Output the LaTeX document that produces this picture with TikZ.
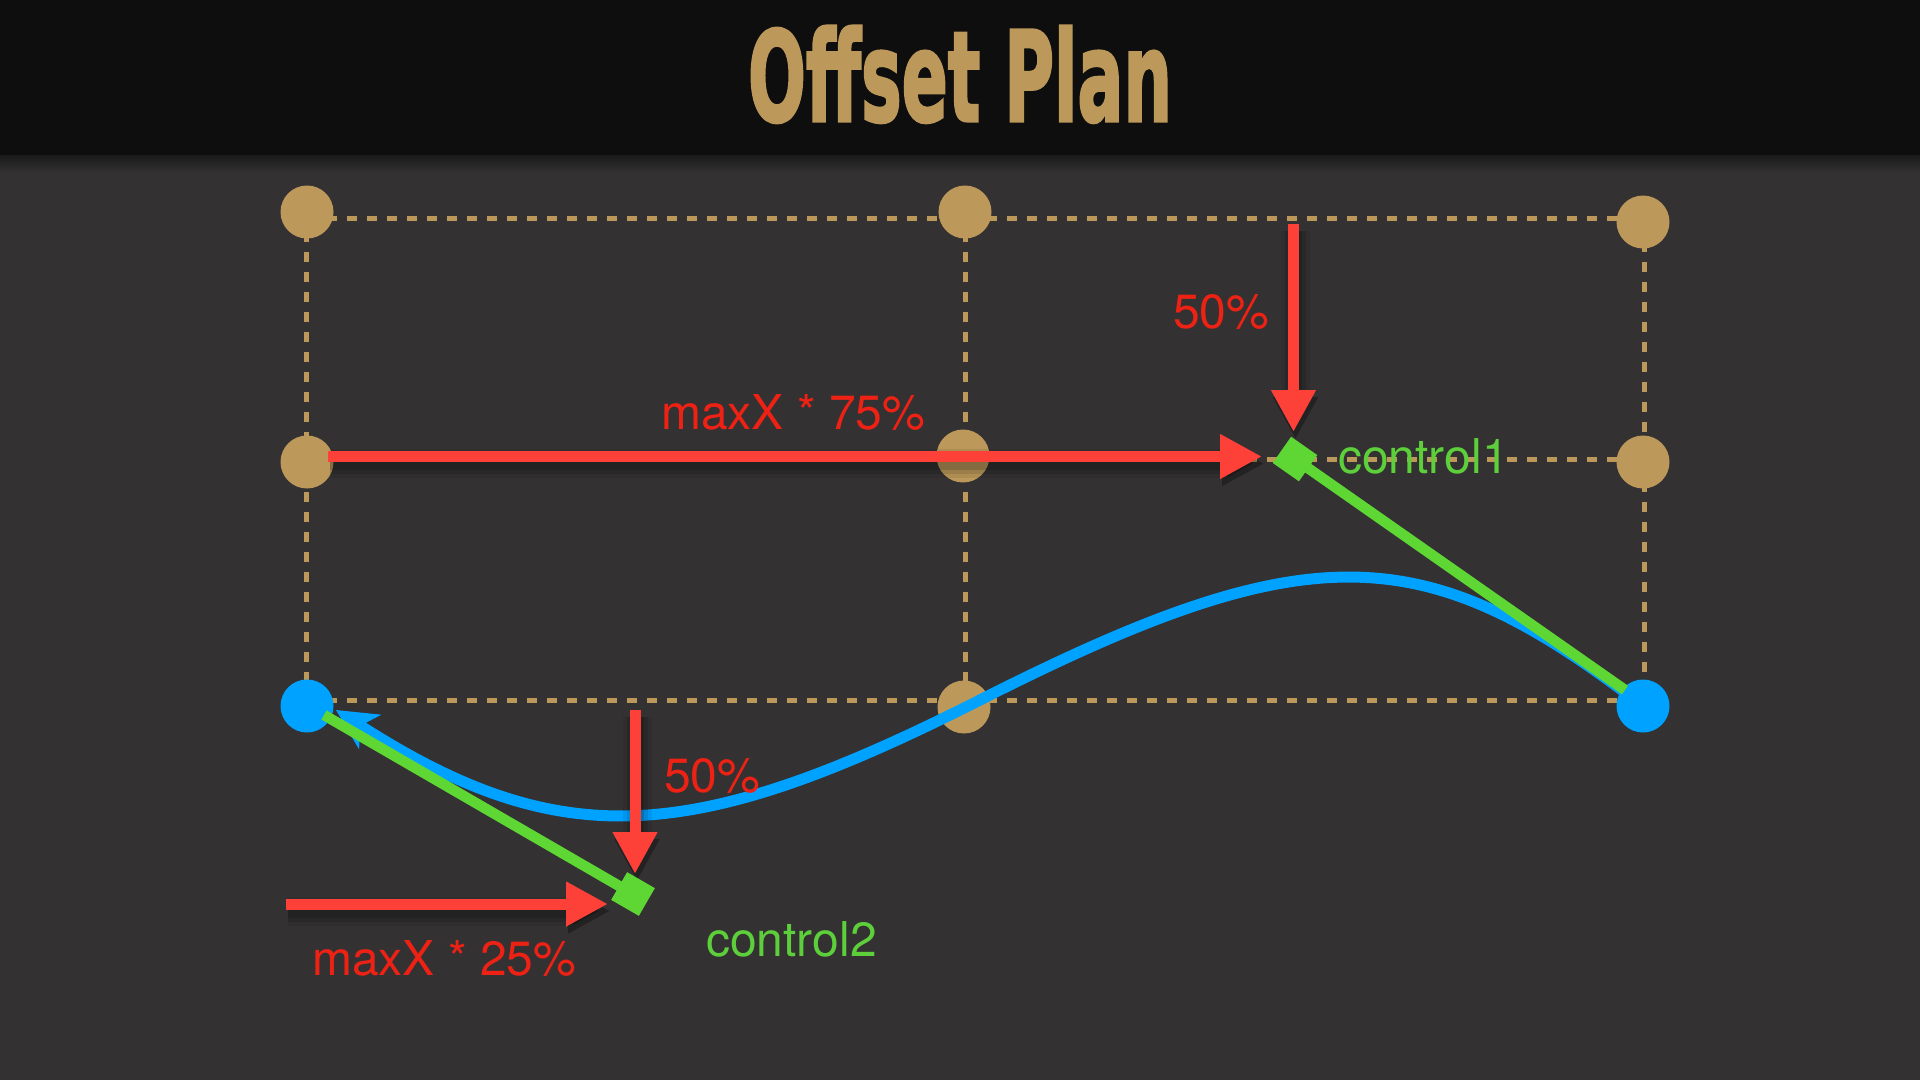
\documentclass[tikz,border=0pt]{standalone}
\usepackage{fontspec}
\setmainfont{TeX Gyre Heros}
\newfontfamily\titlefont{DejaVu Sans}[BoldFeatures={FakeBold=2.5}]
\usetikzlibrary{arrows.meta}
\definecolor{bg}{RGB}{51,49,50}
\definecolor{barcol}{RGB}{14,14,14}
\definecolor{gold}{RGB}{188,152,90}
\definecolor{dotblue}{RGB}{0,162,255}
\definecolor{linegreen}{RGB}{94,214,52}
\definecolor{textgreen}{RGB}{92,207,58}
\definecolor{arrowred}{RGB}{253,65,57}
\definecolor{textred}{RGB}{238,34,20}
\begin{document}
\begin{tikzpicture}[x=1pt,y=-1pt,
  golddot/.style={circle,fill=gold,inner sep=0pt,minimum size=53pt},
  bluedot/.style={circle,fill=dotblue,inner sep=0pt,minimum size=53pt},
  gridline/.style={draw=gold,line width=5pt,dash pattern=on 10pt off 10pt},
  bluecurve/.style={draw=dotblue,line width=11pt,-{Stealth[length=40pt,width=40pt,inset=11pt]}},
  greenline/.style={draw=linegreen,line width=10.5pt},
  ctrlsq/.style={rectangle,fill=linegreen,inner sep=0pt,minimum size=32pt},
  redarrow/.style={draw=arrowred,line width=11pt,-{Triangle[length=42pt,width=42pt]}},
  shadowpass/.style={draw=black,opacity=#1,-{Triangle[length=42pt,width=42pt]},
     transform canvas={shift={(2pt,-7pt)}}},
  redlabel/.style={text=textred,inner sep=0pt,anchor=base west,font=\fontsize{48}{56}\selectfont},
  greenlabel/.style={text=textgreen,inner sep=0pt,anchor=base west,font=\fontsize{48}{56}\selectfont},
  titletext/.style={text=gold,inner sep=0pt,anchor=south}]
\useasboundingbox (0,0) rectangle (1920,1080);
\fill[bg] (0,0) rectangle (1920,1080);
\shade[top color=black!90,bottom color=bg] (0,155) rectangle (1920,172);
\fill[barcol] (0,0) rectangle (1920,155);
\node[titletext] (title) at (960,123) {\resizebox{424pt}{95pt}{\titlefont\bfseries Offset Plan}};

% grid dashed lines
\coordinate (t1) at (307,218); \coordinate (t3) at (1643,218);
\coordinate (m1) at (307,459); \coordinate (m3) at (1643,459);
\coordinate (d1) at (307,700); \coordinate (d3) at (1643,700);
\coordinate (v1a) at (306,212); \coordinate (v1b) at (306,706);
\coordinate (v2a) at (965,212); \coordinate (v2b) at (965,706);
\coordinate (v3a) at (1644,222); \coordinate (v3b) at (1644,706);
\draw[gridline] (t1) -- (t3);
\draw[gridline] (m1) -- (m3);
\draw[gridline] (d1) -- (d3);
\draw[gridline] (v1a) -- (v1b);
\draw[gridline] (v2a) -- (v2b);
\draw[gridline] (v3a) -- (v3b);

% dots
\node[golddot] (g11) at (307,212) {};
\node[golddot] (g12) at (965,212) {};
\node[golddot] (g13) at (1643,222) {};
\node[golddot] (g21) at (307,462) {};
\node[golddot] (g22) at (963,456) {};
\node[golddot] (g23) at (1643,462) {};
\node[golddot] (g32) at (964,707) {};
\node[bluedot] (b1) at (307,706) {};
\node[bluedot] (b2) at (1643,706) {};

% blue curve
\coordinate (mid) at (980,700);
\coordinate (tipL) at (336,710);
\draw[bluecurve] (b2.center) .. controls (1424.75,538.3) and (1311.8,531.9) .. (mid)
   .. controls (693.7,845) and (561.4,855) .. (tipL);

% green tangent lines
\coordinate (c1) at (1295,459);
\coordinate (c2) at (633,894);
\coordinate (gr) at (1625,690);
\coordinate (gl) at (324,715);
\draw[greenline] (c1) -- (gr);
\draw[greenline] (c2) -- (gl);

% red arrows
\coordinate (a1s) at (328,456.5); \coordinate (a1e) at (1262,456.5);
\coordinate (a2s) at (1293.5,224); \coordinate (a2e) at (1293.5,432);
\coordinate (a3s) at (286,904);   \coordinate (a3e) at (608,904);
\coordinate (a4s) at (635,710);   \coordinate (a4e) at (635,874);
\foreach \w/\o in {13/0.14,21/0.10,29/0.07}{
  \draw[shadowpass=\o,line width=\w pt] (a1s) -- (a1e);
  \draw[shadowpass=\o,line width=\w pt] (a2s) -- (a2e);
  \draw[shadowpass=\o,line width=\w pt] (a3s) -- (a3e);
  \draw[shadowpass=\o,line width=\w pt] (a4s) -- (a4e);
}
\draw[redarrow] (a1s) -- (a1e);
\draw[redarrow] (a2s) -- (a2e);
\draw[redarrow] (a3s) -- (a3e);
\draw[redarrow] (a4s) -- (a4e);

% control squares
\node[ctrlsq,rotate=-35] (c1sq) at (c1) {};
\node[ctrlsq,rotate=-30] (c2sq) at (c2) {};

% labels
\node[redlabel] (l50a) at (1173,328) {50\%};
\node[redlabel] (l75) at (661,429) {maxX * 75\%};
\node[greenlabel] (lc1) at (1338,473) {control1};
\node[redlabel] (l50b) at (664,792) {50\%};
\node[redlabel] (l25) at (312,975) {maxX * 25\%};
\node[greenlabel] (lc2) at (706,956) {control2};
\end{tikzpicture}
\end{document}
